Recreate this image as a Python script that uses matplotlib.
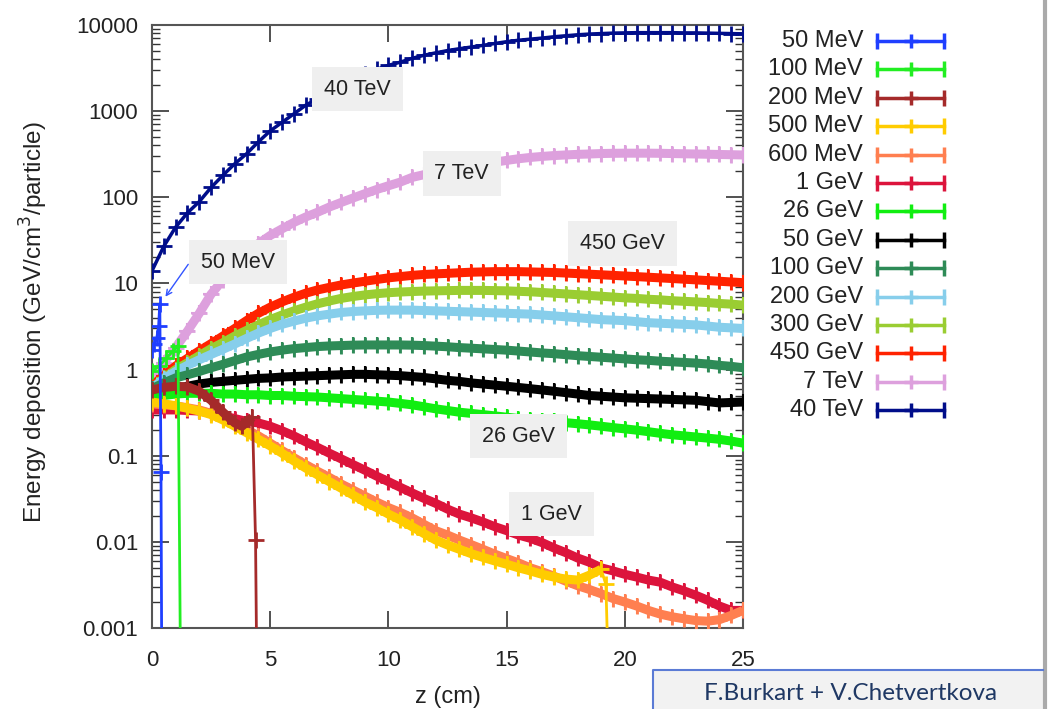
import matplotlib
matplotlib.use("Agg")
import matplotlib.pyplot as plt
from matplotlib.lines import Line2D
from matplotlib.patches import Rectangle

plt.rcParams['font.family'] = ['Liberation Sans', 'DejaVu Sans']

# depth grid (cm), every half centimetre
z_half = [0, 0.5, 1, 1.5, 2, 2.5, 3, 3.5, 4, 4.5, 5, 5.5, 6, 6.5, 7, 7.5, 8, 8.5, 9, 9.5,
          10, 10.5, 11, 11.5, 12, 12.5, 13, 13.5, 14, 14.5, 15, 15.5, 16, 16.5, 17, 17.5,
          18, 18.5, 19, 19.5, 20, 20.5, 21, 21.5, 22, 22.5, 23, 23.5, 24, 24.5, 25]

# low energies: short ranges, own z points
z_50mev = [0, 0.1, 0.2, 0.28, 0.33, 0.38, 0.42]
e_50mev = [1.7, 2.0, 2.3, 3.2, 5.8, 0.065, 0.0001]

z_100mev = [0, 0.3, 0.6, 0.9, 1.1, 1.22]
e_100mev = [0.95, 1.1, 1.35, 1.65, 1.9, 0.0001]

z_200mev = [0, 0.5, 1, 1.5, 2, 2.5, 3, 3.5, 3.8, 4.25, 4.38, 4.45]
e_200mev = [0.58, 0.62, 0.64, 0.63, 0.56, 0.44, 0.32, 0.24, 0.22, 0.28, 0.0105, 0.0001]

z_500mev = z_half[:39] + [19.2, 19.35]
e_500mev = [0.42, 0.4, 0.38, 0.355, 0.33, 0.3, 0.26, 0.22, 0.185, 0.155, 0.13, 0.107, 0.087,
            0.072, 0.06, 0.05, 0.042, 0.035, 0.029, 0.025, 0.021, 0.018, 0.015, 0.0125, 0.0105,
            0.0092, 0.0082, 0.0073, 0.0066, 0.006, 0.0055, 0.005, 0.0046, 0.0042, 0.0039,
            0.0037, 0.0036, 0.0041, 0.0048, 0.0032, 0.0001]

e_600mev = [0.4, 0.39, 0.38, 0.36, 0.34, 0.31, 0.27, 0.235, 0.2, 0.17, 0.14, 0.115, 0.095,
            0.079, 0.066, 0.056, 0.047, 0.04, 0.034, 0.029, 0.025, 0.022, 0.019, 0.016, 0.0135,
            0.012, 0.0105, 0.0093, 0.0082, 0.0072, 0.0064, 0.0057, 0.005, 0.0045, 0.004, 0.0035,
            0.0031, 0.0028, 0.0025, 0.0022, 0.002, 0.0018, 0.0016, 0.00145, 0.00135, 0.00128,
            0.00122, 0.0012, 0.00125, 0.0014, 0.0016]

e_1gev = [0.34, 0.34, 0.34, 0.335, 0.33, 0.31, 0.29, 0.27, 0.25, 0.24, 0.22, 0.195, 0.17,
          0.145, 0.125, 0.107, 0.092, 0.079, 0.068, 0.058, 0.05, 0.043, 0.037, 0.032, 0.028,
          0.024, 0.021, 0.019, 0.017, 0.015, 0.0135, 0.012, 0.011, 0.0098, 0.0085, 0.0075,
          0.0065, 0.0058, 0.005, 0.0046, 0.0042, 0.0039, 0.0036, 0.0034, 0.003, 0.0027,
          0.0024, 0.0021, 0.0018, 0.0016, 0.0016]

e_26gev = [0.47, 0.5, 0.52, 0.53, 0.53, 0.53, 0.52, 0.52, 0.51, 0.51, 0.5, 0.5, 0.49, 0.485,
           0.48, 0.47, 0.46, 0.45, 0.44, 0.43, 0.42, 0.405, 0.39, 0.37, 0.35, 0.335, 0.32, 0.31,
           0.3, 0.29, 0.28, 0.27, 0.26, 0.255, 0.25, 0.242, 0.235, 0.228, 0.22, 0.212, 0.205,
           0.198, 0.19, 0.182, 0.175, 0.17, 0.165, 0.16, 0.155, 0.148, 0.14]

e_50gev = [0.5, 0.55, 0.6, 0.64, 0.68, 0.71, 0.73, 0.75, 0.77, 0.79, 0.8, 0.82, 0.83, 0.84,
           0.85, 0.86, 0.87, 0.88, 0.88, 0.87, 0.86, 0.85, 0.83, 0.81, 0.78, 0.75, 0.73, 0.7,
           0.68, 0.66, 0.64, 0.62, 0.6, 0.58, 0.56, 0.54, 0.52, 0.5, 0.49, 0.48, 0.47, 0.465,
           0.46, 0.455, 0.45, 0.445, 0.44, 0.425, 0.41, 0.415, 0.42]

e_100gev = [0.6, 0.7, 0.8, 0.87, 0.95, 1.05, 1.15, 1.27, 1.4, 1.5, 1.6, 1.68, 1.75, 1.8, 1.85,
            1.88, 1.9, 1.92, 1.93, 1.93, 1.93, 1.93, 1.92, 1.9, 1.87, 1.84, 1.8, 1.77, 1.74,
            1.71, 1.68, 1.64, 1.6, 1.56, 1.53, 1.49, 1.45, 1.42, 1.39, 1.36, 1.33, 1.3, 1.28,
            1.25, 1.23, 1.21, 1.19, 1.16, 1.12, 1.09, 1.05]

e_200gev = [0.6, 0.78, 0.95, 1.12, 1.3, 1.5, 1.72, 1.98, 2.3, 2.65, 3.0, 3.35, 3.65, 3.95, 4.2,
            4.4, 4.6, 4.72, 4.8, 4.87, 4.9, 4.9, 4.9, 4.85, 4.8, 4.75, 4.7, 4.65, 4.6, 4.55,
            4.5, 4.45, 4.4, 4.3, 4.2, 4.1, 4.0, 3.9, 3.8, 3.75, 3.7, 3.6, 3.5, 3.45, 3.4, 3.35,
            3.3, 3.2, 3.1, 3.05, 3.0]

e_300gev = [0.6, 0.8, 1.0, 1.2, 1.45, 1.75, 2.05, 2.45, 2.85, 3.3, 3.8, 4.3, 4.8, 5.3, 5.8,
            6.25, 6.7, 7.05, 7.35, 7.6, 7.8, 7.95, 8.05, 8.15, 8.2, 8.25, 8.3, 8.3, 8.3, 8.25,
            8.2, 8.1, 8.0, 7.85, 7.7, 7.55, 7.4, 7.25, 7.1, 6.95, 6.8, 6.7, 6.55, 6.45, 6.3,
            6.2, 6.1, 6.0, 5.85, 5.75, 5.6]

e_450gev = [0.65, 0.85, 1.1, 1.35, 1.65, 2.0, 2.45, 3.0, 3.7, 4.5, 5.3, 6.1, 6.9, 7.7, 8.4,
            9.0, 9.6, 10.1, 10.6, 11.1, 11.6, 12.0, 12.4, 12.7, 12.9, 13.1, 13.3, 13.5, 13.6,
            13.7, 13.7, 13.7, 13.6, 13.5, 13.4, 13.2, 13.0, 12.8, 12.6, 12.4, 12.2, 12.0, 11.8,
            11.6, 11.4, 11.2, 11.0, 10.8, 10.6, 10.4, 10.2]

e_7tev = [0.85, 1.2, 1.8, 2.8, 4.5, 7.5, 11, 16, 22, 29, 36, 43, 51, 59, 67, 77, 87, 98, 110,
          123, 136, 150, 170, 183, 195, 207, 219, 231, 243, 256, 268, 280, 290, 298, 305, 310,
          315, 318, 322, 324, 325, 325, 325, 324, 322, 320, 318, 316, 314, 312, 310]

e_40tev = [14, 27, 45, 66, 89, 130, 180, 245, 320, 440, 590, 740, 930, 1170, 1400, 1700, 2000,
           2350, 2700, 3050, 3400, 3700, 4100, 4450, 4750, 5050, 5300, 5550, 5800, 6100, 6400,
           6650, 6850, 7050, 7300, 7500, 7700, 7850, 7950, 8050, 8100, 8150, 8150, 8150, 8150,
           8100, 8100, 8050, 8000, 7950, 7900]

labels = ['50 MeV', '100 MeV', '200 MeV', '500 MeV', '600 MeV', '1 GeV', '26 GeV', '50 GeV',
          '100 GeV', '200 GeV', '300 GeV', '450 GeV', '7 TeV', '40 TeV']
colors = ['#1f3fff', '#22ee22', '#a52a2a', '#ffcc00', '#ff7f50', '#dc143c', '#11ee11', '#000000',
          '#2e8b57', '#87ceeb', '#9acd32', '#ff2200', '#dda0dd', '#000d8a']
zs = [z_50mev, z_100mev, z_200mev, z_500mev, z_half, z_half, z_half, z_half,
      z_half, z_half, z_half, z_half, z_half, z_half]
es = [e_50mev, e_100mev, e_200mev, e_500mev, e_600mev, e_1gev, e_26gev, e_50gev,
      e_100gev, e_200gev, e_300gev, e_450gev, e_7tev, e_40tev]
# how many leading points of each series are dense enough to show as a thick band
band_n = [0, 0, 10, 39, 51, 51, 51, 51, 51, 51, 51, 51, 51, 0]

yticks = [0.001, 0.01, 0.1, 1, 10, 100, 1000, 10000]
ytick_labels = ['0.001', '0.01', '0.1', '1', '10', '100', '1000', '10000']
xticks = [0, 5, 10, 15, 20, 25]

# label boxes: (text, z, value)
tags = [('40 TeV', 8.7, 1800), ('7 TeV', 13.1, 190), ('450 GeV', 19.9, 29),
        ('26 GeV', 15.5, 0.169), ('1 GeV', 16.9, 0.021)]

W, H = 1053, 709
fig = plt.figure(figsize=(W / 100, H / 100), dpi=100)
ax = fig.add_axes([152 / W, 1 - 628 / H, 591 / W, 603 / H])

n = len(labels)
for i in range(n):
    lw = 2.5 if i == n - 1 else 2
    ax.plot(zs[i], es[i], color=colors[i], lw=lw, marker='+', ms=11, mew=2,
            zorder=30 - i)
    if band_n[i]:
        k = band_n[i]
        ax.plot(zs[i][:k], es[i][:k], color=colors[i], lw=6.5, marker='+', ms=12, mew=1.5,
                solid_capstyle='butt', zorder=30 - i)

ax.set_yscale('log')
ax.set_xlim(0, 25)
ax.set_ylim(0.001, 10000)
ax.set_yticks(yticks, ytick_labels)
ax.set_xticks(xticks)
ax.yaxis.set_minor_formatter(matplotlib.ticker.NullFormatter())
ax.tick_params(which='both', direction='in', top=True, right=True, colors='#333333',
               labelsize=16, labelcolor='#222222')
ax.tick_params(which='major', length=12, width=1.2)
ax.tick_params(which='minor', length=6, width=1.0)
ax.tick_params(axis='y', pad=10)
ax.tick_params(axis='x', pad=16)
for sp in ax.spines.values():
    sp.set_color('#555555')
    sp.set_linewidth(1.5)

ax.set_ylabel('Energy deposition (GeV/cm$^3$/particle)', fontsize=17.5, color='#222222')
ax.yaxis.set_label_coords(-0.172, 0.507)
ax.set_xlabel('z (cm)', fontsize=17, color='#222222')
ax.xaxis.set_label_coords(0.5, -0.097)

box = dict(facecolor='#efefef', edgecolor='none', boxstyle='square,pad=0.55')
for txt, zx, val in tags:
    ax.text(zx, val, txt, ha='center', va='center', fontsize=15.5, color='#222222',
            bbox=box, zorder=50)

ax.text(3.64, 17.7, '50 MeV', ha='center', va='center', fontsize=15.5, color='#222222',
        bbox=box, zorder=50)
ax.annotate('', xy=(0.5, 6.6), xytext=(1.6, 17.7),
            arrowprops=dict(arrowstyle='->', color='#3355ff', lw=1.0), zorder=51)

# legend, gnuplot style: text on the left, errorbar sample on the right
for i in range(n):
    y = 1 - (41 + i * 28.4) / H
    fig.text(863 / W, y, labels[i], ha='right', va='center', fontsize=17, color='#222222')
    fig.add_artist(Line2D([877 / W, 944 / W], [y, y], transform=fig.transFigure,
                          color=colors[i], lw=2.5, marker='|', ms=12, mew=2.5))
    fig.add_artist(Line2D([910.5 / W], [y], transform=fig.transFigure,
                          color=colors[i], marker='+', ms=10, mew=2.5))

# slide decorations
fig.add_artist(Line2D([1045 / W, 1045 / W], [0, 1], transform=fig.transFigure,
                      color='#aaaaaa', lw=3))
fig.add_artist(Rectangle((653 / W, 0), 390 / W, 39 / H, transform=fig.transFigure,
                         facecolor='#f2f2f2', edgecolor='none'))
fig.add_artist(Line2D([653 / W, 653 / W, 1043 / W], [0, 39 / H, 39 / H],
                      transform=fig.transFigure, color='#5b7bd5', lw=1.5))
fig.text(851 / W, 1 - 693 / H, 'F.Burkart + V.Chetvertkova', ha='center', va='center',
         fontsize=17.5, color='#1f3864', family=['Lato', 'DejaVu Sans'])

fig.savefig('out.png', dpi=100)
